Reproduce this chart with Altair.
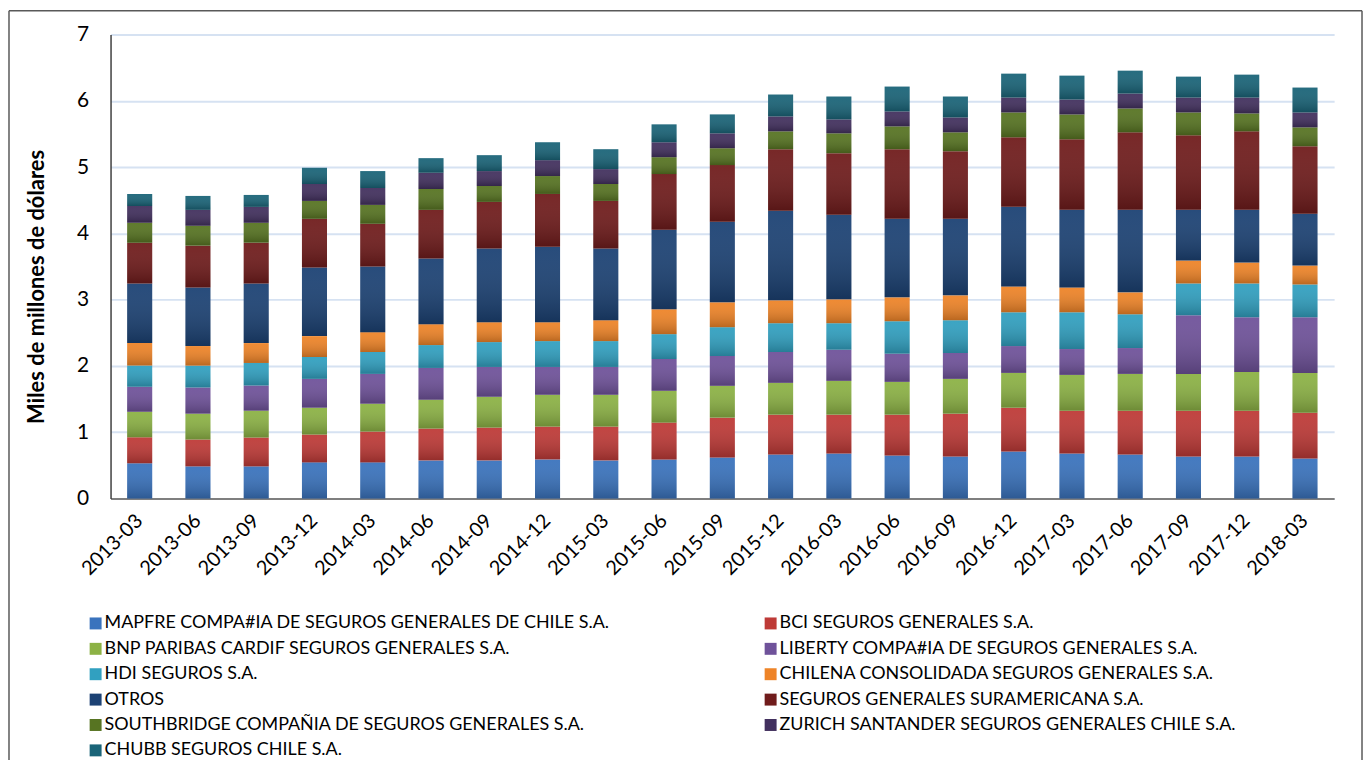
import altair as alt
import pandas as pd

periods = ["2013-03", "2013-06", "2013-09", "2013-12", "2014-03", "2014-06", "2014-09",
           "2014-12", "2015-03", "2015-06", "2015-09", "2015-12", "2016-03", "2016-06",
           "2016-09", "2016-12", "2017-03", "2017-06", "2017-09", "2017-12", "2018-03"]

companies = [
    "MAPFRE COMPA#IA DE SEGUROS GENERALES DE CHILE S.A.",
    "BCI SEGUROS GENERALES S.A.",
    "BNP PARIBAS CARDIF SEGUROS GENERALES S.A.",
    "LIBERTY COMPA#IA DE SEGUROS GENERALES S.A.",
    "HDI SEGUROS S.A.",
    "CHILENA CONSOLIDADA SEGUROS GENERALES S.A.",
    "OTROS",
    "SEGUROS GENERALES SURAMERICANA S.A.",
    "SOUTHBRIDGE COMPAÑIA DE SEGUROS GENERALES S.A.",
    "ZURICH SANTANDER SEGUROS GENERALES CHILE S.A.",
    "CHUBB SEGUROS CHILE S.A.",
]

colors = ["#3A73BD", "#BE3A37", "#8CB245", "#6F529A", "#31A0C0", "#EE8428",
          "#1C4274", "#701C1C", "#577422", "#42305E", "#1A6478"]

mapfre = [0.53, 0.485, 0.485, 0.545, 0.545, 0.575, 0.575, 0.59, 0.575, 0.59, 0.62,
          0.665, 0.68, 0.65, 0.635, 0.71, 0.68, 0.665, 0.635, 0.635, 0.605]
bci = [0.395, 0.405, 0.435, 0.42, 0.465, 0.48, 0.495, 0.495, 0.51, 0.555, 0.60,
       0.60, 0.585, 0.615, 0.645, 0.66, 0.645, 0.66, 0.69, 0.69, 0.69]
bnp = [0.385, 0.39, 0.405, 0.405, 0.42, 0.435, 0.465, 0.48, 0.48, 0.48, 0.48,
       0.48, 0.51, 0.495, 0.525, 0.525, 0.54, 0.555, 0.555, 0.585, 0.60]
liberty = [0.375, 0.395, 0.38, 0.435, 0.45, 0.48, 0.45, 0.42, 0.42, 0.48, 0.45,
           0.465, 0.47, 0.425, 0.39, 0.405, 0.39, 0.39, 0.885, 0.825, 0.84]
hdi = [0.32, 0.33, 0.34, 0.33, 0.33, 0.345, 0.375, 0.39, 0.39, 0.375, 0.435,
       0.435, 0.40, 0.49, 0.495, 0.51, 0.555, 0.51, 0.48, 0.51, 0.495]
chilena = [0.34, 0.295, 0.30, 0.315, 0.30, 0.315, 0.30, 0.285, 0.315, 0.375, 0.375,
           0.345, 0.36, 0.36, 0.375, 0.39, 0.375, 0.33, 0.345, 0.315, 0.285]
otros = [0.90, 0.885, 0.90, 1.035, 0.99, 0.99, 1.11, 1.14, 1.08, 1.20, 1.215,
         1.35, 1.275, 1.185, 1.155, 1.20, 1.17, 1.245, 0.765, 0.795, 0.78]
suramericana = [0.615, 0.63, 0.615, 0.735, 0.645, 0.735, 0.705, 0.795, 0.72, 0.84, 0.855,
                0.93, 0.93, 1.05, 1.02, 1.05, 1.065, 1.17, 1.125, 1.185, 1.02]
southbridge = [0.30, 0.30, 0.30, 0.27, 0.285, 0.315, 0.24, 0.27, 0.255, 0.255, 0.255,
               0.27, 0.30, 0.345, 0.285, 0.375, 0.375, 0.36, 0.345, 0.27, 0.285]
zurich = [0.255, 0.24, 0.24, 0.255, 0.255, 0.245, 0.225, 0.24, 0.225, 0.225, 0.225,
          0.225, 0.21, 0.225, 0.225, 0.225, 0.225, 0.225, 0.225, 0.24, 0.225]
chubb = [0.18, 0.21, 0.18, 0.245, 0.255, 0.22, 0.24, 0.27, 0.30, 0.27, 0.285,
         0.33, 0.345, 0.375, 0.315, 0.36, 0.36, 0.345, 0.315, 0.345, 0.375]

series = [mapfre, bci, bnp, liberty, hdi, chilena, otros, suramericana,
          southbridge, zurich, chubb]

y_ticks = [0, 1, 2, 3, 4, 5, 6, 7]

rows = []
for idx, (name, vals) in enumerate(zip(companies, series)):
    for p, v in zip(periods, vals):
        rows.append({"periodo": p, "empresa": name, "valor": v, "orden": idx})
df = pd.DataFrame(rows)

FONT = "Lato"
W, H = 1229, 466

x_enc = alt.X("periodo:N", sort=periods,
              scale=alt.Scale(paddingInner=0.57, paddingOuter=0.285),
              axis=alt.Axis(title=None, labelAngle=-45, labelAlign="right",
                            labelBaseline="middle", labelFontSize=20,
                            labelPadding=19, labelColor="#000000", ticks=False,
                            domainColor="#7F7F7F", domainWidth=2, grid=False))
y_enc = alt.Y("valor:Q", stack="zero",
              scale=alt.Scale(domain=[0, 7], nice=False),
              axis=alt.Axis(title="Miles de millones de dólares", values=y_ticks,
                            format="d",
                            titleFontSize=22, titleFontWeight="bold",
                            titleColor="#000000", titleX=-74, titleY=253,
                            titleAngle=-90, titleAlign="center",
                            titleBaseline="middle",
                            labelFontSize=21, labelColor="#000000", labelPadding=22,
                            ticks=False, domainColor="#404040", domainWidth=1.5,
                            gridColor="#D6E2F2", gridWidth=2))

bars = alt.Chart(df).mark_bar().encode(
    x=x_enc,
    y=y_enc,
    order=alt.Order("orden:Q", sort="ascending"),
    color=alt.Color("empresa:N",
                    scale=alt.Scale(domain=companies, range=colors),
                    sort=companies,
                    legend=alt.Legend(title=None, orient="none", legendX=-24,
                                      legendY=582.5, columns=2, direction="horizontal",
                                      symbolType="square", symbolSize=144,
                                      symbolStrokeWidth=0, labelFontSize=18,
                                      labelFont=FONT, labelColor="#000000",
                                      labelLimit=800, labelOffset=0,
                                      rowPadding=7.5, columnPadding=152,
                                      padding=0)),
)

shade = alt.Chart(df).mark_bar(
    fill=alt.Gradient(gradient="linear",
                      stops=[alt.GradientStop(color="rgba(255,255,255,0.05)", offset=0),
                             alt.GradientStop(color="rgba(0,0,0,0.22)", offset=1)],
                      x1=0, x2=0, y1=0, y2=1)
).encode(
    x=alt.X("periodo:N", sort=periods),
    y=alt.Y("valor:Q", stack="zero"),
    order=alt.Order("orden:Q", sort="ascending"),
)

frame_df = pd.DataFrame({"k": [0]})
frame_style = dict(stroke="#595959", strokeWidth=1.5)
frame_top = alt.Chart(frame_df).mark_rule(**frame_style).encode(
    x=alt.value(-102), x2=alt.value(1257), y=alt.value(-24))
frame_left = alt.Chart(frame_df).mark_rule(**frame_style).encode(
    x=alt.value(-102), y=alt.value(-24), y2=alt.value(740))
frame_right = alt.Chart(frame_df).mark_rule(**frame_style).encode(
    x=alt.value(1257), y=alt.value(-24), y2=alt.value(740))

chart = alt.layer(bars, shade, frame_top, frame_left, frame_right).properties(
    width=W, height=H,
    autosize=alt.AutoSizeParams(type="none"),
    padding={"left": 103, "top": 25, "right": 30, "bottom": 261},
).configure(font=FONT).configure_view(stroke=None)

chart.save("out.html", embed_options={"renderer": "svg", "actions": False})
